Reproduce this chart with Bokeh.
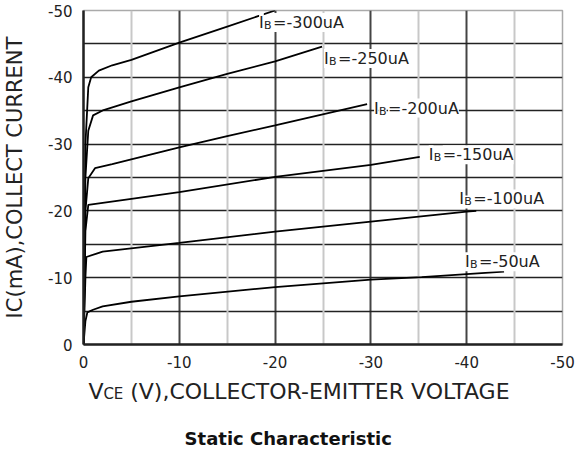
import math
from bokeh.plotting import figure
from bokeh.layouts import column
from bokeh.models import Range1d, FixedTicker, Grid, Label, PrintfTickFormatter
from bokeh.embed import file_html
from bokeh.resources import INLINE

# ---- data (VCE in V, IC in mA) ----
ib_labels = ["=-300uA", "=-250uA", "=-200uA", "=-150uA", "=-100uA", "=-50uA"]

v300 = [0, -0.2, -0.5, -0.8, -1.6, -3, -5, -10, -15, -20]
i300 = [0, -30, -38.5, -40.0, -41.0, -41.8, -42.6, -45.2, -47.6, -50.0]

v250 = [0, -0.2, -0.5, -1.0, -2.1, -5, -10, -15, -20, -24.9]
i250 = [0, -25, -32, -34.3, -35.1, -36.4, -38.5, -40.5, -42.4, -44.6]

v200 = [0, -0.2, -0.5, -1.2, -3, -10, -15, -20, -29.6]
i200 = [0, -20, -24.9, -26.4, -27.0, -29.5, -31.2, -32.8, -36.0]

v150 = [0, -0.2, -0.5, -5, -10, -20, -30, -35.1]
i150 = [0, -17, -20.9, -21.8, -22.8, -25.1, -26.9, -28.1]

v100 = [0, -0.2, -0.3, -2, -10, -20, -30, -40, -41]
i100 = [0, -10, -13.1, -13.9, -15.2, -16.9, -18.4, -19.9, -20.0]

v50 = [0, -0.2, -0.4, -1, -2, -5, -10, -20, -30, -35.3, -43.9]
i50 = [0, -3.5, -4.8, -5.2, -5.7, -6.4, -7.2, -8.6, -9.7, -10.1, -10.9]

x_ticks = [0, -10, -20, -30, -40, -50]
y_ticks = [0, -10, -20, -30, -40, -50]
x_minor = [-5, -15, -25, -35, -45]
y_grid = [-5, -10, -15, -20, -25, -30, -35, -40, -45]

x_title_parts = ["V", "CE", "(V),COLLECTOR-EMITTER VOLTAGE"]
y_title = "IC(mA),COLLECT CURRENT"
chart_title = "Static Characteristic"

curves = [(v300, i300), (v250, i250), (v200, i200), (v150, i150), (v100, i100), (v50, i50)]
# label offsets (px) from each curve's end point
label_offsets = [(-16, -12), (2, -12), (7, -4), (9, 2), (-17, 12), (-39, 10)]

FONT = "DejaVu Sans"
TXT = "#222222"
LEFT, RIGHT = 80, 22

p = figure(width=584, height=370, x_range=Range1d(0, -50), y_range=Range1d(0, -50),
           output_backend="svg", toolbar_location=None,
           min_border_left=LEFT, min_border_right=RIGHT, min_border_top=10, min_border_bottom=25)
p.background_fill_color = "white"
p.border_fill_color = "white"
p.outline_line_color = "#aaaaaa"
p.outline_line_width = 1.5

# grids
p.xgrid.ticker = FixedTicker(ticks=x_ticks[1:])
p.xgrid.grid_line_color = "#444444"
p.xgrid.grid_line_width = 2
p.ygrid.ticker = FixedTicker(ticks=y_grid)
p.ygrid.grid_line_color = "#222222"
p.ygrid.grid_line_width = 1.5
minor = Grid(dimension=0, ticker=FixedTicker(ticks=x_minor),
             grid_line_color="#c8c8c8", grid_line_width=2)
p.add_layout(minor)
minor.level = "underlay"

# axes
for ax, ticks in ((p.xaxis, x_ticks), (p.yaxis, y_ticks)):
    ax.ticker = FixedTicker(ticks=ticks)
    ax.formatter = PrintfTickFormatter(format="%d")
    ax.major_tick_line_color = None
    ax.minor_tick_line_color = None
    ax.major_label_text_font = FONT
    ax.major_label_text_font_size = "15px"
    ax.major_label_text_color = TXT
    ax.major_label_standoff = 5
    ax.axis_line_color = "#222222"
    ax.axis_line_width = 2.5

p.yaxis.axis_label = y_title
p.yaxis.axis_label_text_font = FONT
p.yaxis.axis_label_text_font_size = "21px"
p.yaxis.axis_label_text_font_style = "normal"
p.yaxis.axis_label_text_color = TXT
p.yaxis.axis_label_standoff = 18

# curves + labels
for (vv, ii), txt, (dx, dy) in zip(curves, ib_labels, label_offsets):
    p.line(vv, ii, line_color="black", line_width=1.8)
    xe, ye = vv[-1], ii[-1]
    p.add_layout(Label(x=xe, y=ye, x_offset=dx, y_offset=dy, text="I",
                       text_font=FONT, text_font_size="16px", text_baseline="middle",
                       background_fill_color="white", text_color=TXT))
    p.add_layout(Label(x=xe, y=ye, x_offset=dx + 5, y_offset=dy - 3, text="B",
                       text_font=FONT, text_font_size="11px", text_baseline="middle",
                       background_fill_color="white", text_color=TXT))
    p.add_layout(Label(x=xe, y=ye, x_offset=dx + 14, y_offset=dy, text=txt,
                       text_font=FONT, text_font_size="16px", text_baseline="middle",
                       background_fill_color="white", text_color=TXT))

# lower panel (same side borders, so its x coordinate equals the page pixel column)
p2 = figure(width=584, height=90, x_range=Range1d(LEFT, 584 - RIGHT), y_range=Range1d(90, 0),
            output_backend="svg", toolbar_location=None,
            min_border_left=LEFT, min_border_right=RIGHT, min_border_top=0, min_border_bottom=0)
p2.axis.visible = False
p2.grid.visible = False
p2.outline_line_color = None
p2.background_fill_color = "white"
p2.border_fill_color = "white"

# y here counts pixels down from the top of this panel (panel top = page y 370)
for xpos, ypos, part, size in zip([85, 100, 127], [21, 23, 21], x_title_parts,
                                  ["22px", "15px", "22px"]):
    p2.add_layout(Label(x=xpos, y=ypos, text=part, text_font=FONT, text_font_size=size,
                        text_baseline="middle", text_color=TXT))
p2.add_layout(Label(x=286, y=68, text=chart_title, text_font=FONT, text_font_size="18px",
                    text_font_style="bold", text_align="center", text_baseline="middle",
                    text_color="#111111"))

open("out.html", "w").write(file_html(column(p, p2), INLINE))
